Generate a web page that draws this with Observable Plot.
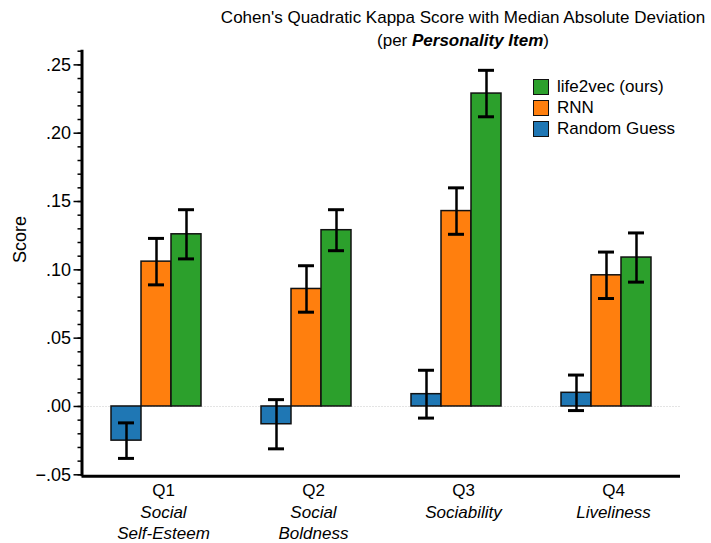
<!DOCTYPE html>
<html>
<head>
<meta charset="utf-8">
<script src="https://cdn.jsdelivr.net/npm/d3@7"></script>
<script src="https://cdn.jsdelivr.net/npm/@observablehq/plot@0.6"></script>
<style>
  body { margin: 0; background: white; font-family: "Liberation Sans", Arial, sans-serif; }
  #wrap { position: relative; width: 711px; height: 543px; }
  #title { position: absolute; left: 213px; top: 6px; width: 500px; text-align: center;
           font-size: 17px; line-height: 23px; color: #000; z-index: 2; }
  #legend { position: absolute; left: 533px; top: 76px; z-index: 2; font-size: 17px; }
  .item { display: flex; align-items: center; height: 21px; }
  .sw { width: 16px; height: 16px; box-sizing: border-box; border: 1.5px solid #111; margin-right: 8px; }
</style>
</head>
<body>
<div id="wrap">
  <div id="title">Cohen's Quadratic Kappa Score with Median Absolute Deviation<br>(per <b><i>Personality Item</i></b>)</div>
  <div id="legend"></div>
</div>
<script>
// ---- data ----
const questions = ["Q1", "Q2", "Q3", "Q4"];
const traits = ["Social\nSelf-Esteem", "Social\nBoldness", "Sociability", "Liveliness"];
const models = ["Random Guess", "RNN", "life2vec (ours)"];
const legendOrder = ["life2vec (ours)", "RNN", "Random Guess"];
const colors = ["#1f77b4", "#ff7f0e", "#2ca02c"];

const randomScore = [-0.025, -0.013, 0.009, 0.010];
const randomMad   = [0.013, 0.018, 0.0175, 0.013];
const rnnScore    = [0.106, 0.086, 0.143, 0.096];
const rnnMad      = [0.017, 0.017, 0.017, 0.017];
const l2vScore    = [0.126, 0.129, 0.229, 0.109];
const l2vMad      = [0.018, 0.015, 0.017, 0.018];

const yTicks = [-0.05, 0, 0.05, 0.10, 0.15, 0.20, 0.25];
const yMinor = d3.range(-5, 27).map(i => i / 100);

// ---- table ----
const seriesScore = [randomScore, rnnScore, l2vScore];
const seriesMad = [randomMad, rnnMad, l2vMad];
const rows = [];
models.forEach((m, mi) => questions.forEach((q, qi) => rows.push({
  q, model: m, score: seriesScore[mi][qi], mad: seriesMad[mi][qi]
})));
const labelRows = questions.map((q, i) => ({q, trait: traits[i]}));

const offsets = {"Random Guess": -30, "RNN": 0, "life2vec (ours)": 30};
const fmt = d => d3.format(".2f")(d).replace("0.", ".");

const marks = [
  Plot.ruleY([0], {stroke: "#c8c8c8", strokeWidth: 1, strokeDasharray: "1,2"}),
];
models.forEach((m, mi) => {
  const data = rows.filter(r => r.model === m);
  const dx = offsets[m];
  marks.push(
    Plot.barY(data, {x: "q", y: "score", fill: colors[mi], stroke: "#111", strokeWidth: 1.5, dx}),
  );
});
models.forEach((m) => {
  const data = rows.filter(r => r.model === m);
  const dx = offsets[m];
  marks.push(
    Plot.ruleX(data, {x: "q", y1: d => d.score - d.mad, y2: d => d.score + d.mad, stroke: "#000", strokeWidth: 2.5, dx}),
    Plot.tickY(data, {x: "q", y: d => d.score + d.mad, stroke: "#000", strokeWidth: 3, inset: 7, dx}),
    Plot.tickY(data, {x: "q", y: d => d.score - d.mad, stroke: "#000", strokeWidth: 3, inset: 7, dx})
  );
});
marks.push(
  Plot.axisY({ticks: yMinor, tickSize: 4, tickFormat: null, text: null, label: null, strokeWidth: 1.5}),
  Plot.axisY({ticks: yTicks, tickSize: 8, tickPadding: 3, tickFormat: fmt, label: null, fontSize: 18, strokeWidth: 1.5}),
  Plot.axisX({tickSize: 0, tickPadding: 9, label: null, fontSize: 17, dx: 7}),
  Plot.text(labelRows, {x: "q", text: "trait", frameAnchor: "bottom", lineAnchor: "top", dy: 29, dx: 7,
    fontStyle: "italic", fontSize: 17, lineHeight: 1.2}),
  Plot.text(["Score"], {frameAnchor: "left", rotate: -90, dx: -61.5, fontSize: 18}),
  Plot.ruleY([-0.05], {stroke: "#000", strokeWidth: 3, dy: 1.5}),
  Plot.frame({anchor: "left", stroke: "#000", strokeWidth: 3})
);

const chart = Plot.plot({
  width: 711,
  height: 543,
  marginTop: 50.7,
  marginBottom: 68.7,
  marginLeft: 81.5,
  marginRight: 31,
  style: {fontFamily: "Liberation Sans, Arial, sans-serif", fontSize: "17px", color: "#000", background: "transparent", overflow: "visible"},
  x: {domain: questions, paddingInner: 0.8, paddingOuter: 0.387, axis: null},
  y: {domain: [-0.05, 0.26], axis: null},
  marks
});
document.getElementById("wrap").appendChild(chart);

const legend = document.getElementById("legend");
legendOrder.forEach(m => {
  const it = document.createElement("div");
  it.className = "item";
  const sw = document.createElement("div");
  sw.className = "sw";
  sw.style.background = colors[models.indexOf(m)];
  const t = document.createElement("span");
  t.textContent = m;
  it.appendChild(sw); it.appendChild(t);
  legend.appendChild(it);
});
</script>
</body>
</html>
